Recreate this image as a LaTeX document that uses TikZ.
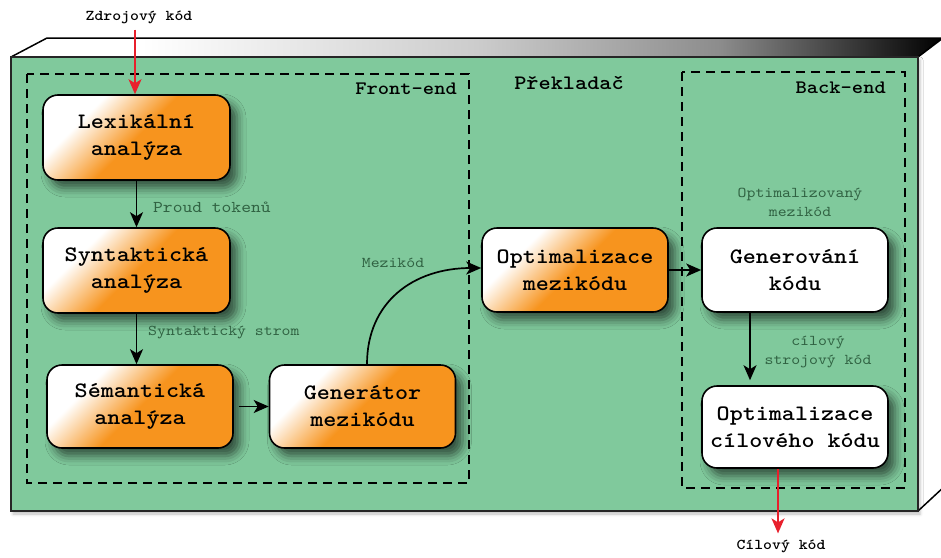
\documentclass[tikz,border=0pt]{standalone}
\usepackage{fontspec}
\setmonofont{lmmono10-regular.otf}[BoldFont=lmmonolt10-bold.otf, FakeStretch=1.13]
\usetikzlibrary{arrows.meta,shadows.blur,calc}

\definecolor{panelgreen}{RGB}{128,201,156}
\definecolor{boxorange}{RGB}{247,148,30}
\definecolor{notegreen}{RGB}{48,98,66}
\definecolor{flowred}{RGB}{232,32,44}

% white-to-orange fill of the pipeline stages (diagonal)
\pgfdeclarehorizontalshading{stagefade}{100bp}{color(0bp)=(white);color(31bp)=(white);color(50bp)=(boxorange);color(100bp)=(boxorange)}
% light-to-dark lid of the block
\pgfdeclarehorizontalshading{lidfade}{100bp}{color(0bp)=(white);color(32bp)=(white);color(50bp)=(white!80!black);color(63bp)=(white!55!black);color(75bp)=(black);color(100bp)=(black)}

\tikzset{
  stage/.style={draw=black, line width=1.6pt, rounded corners=15pt,
    minimum width=187pt, minimum height=85pt, align=center,
    font=\ttfamily\bfseries\fontsize{22}{27}\selectfont,
    blur shadow={shadow xshift=7pt, shadow yshift=-8pt, shadow blur radius=9pt, shadow opacity=60}},
  warm/.style={stage, shading=stagefade, shading angle=-45},
  plain/.style={stage, fill=white},
  note/.style={font=\ttfamily\fontsize{15}{19}\selectfont, text=notegreen, align=center, inner sep=0pt},
  outer/.style={font=\ttfamily\bfseries\fontsize{15}{19}\selectfont, text=black, inner sep=0pt},
  title/.style={font=\ttfamily\bfseries\fontsize{19}{23}\selectfont, text=black, inner sep=0pt},
  flow/.style={draw=black, line width=1.7pt, -{Stealth[length=15pt,width=13pt,inset=4pt]}},
  ioflow/.style={draw=flowred, line width=1.7pt, -{Stealth[length=15pt,width=13pt,inset=4pt]}},
  region/.style={draw=black, line width=1.5pt, dash pattern=on 9pt off 6pt}
}

\begin{document}
\begin{tikzpicture}[x=1pt, y=-1pt]
\useasboundingbox (0,0) rectangle (941,557);

% the compiler block: lid, side and front face
\shade[shading=lidfade, draw=black, line width=1.5pt, line join=round]
  (11,57) -- (47,38) -- (943,38) -- (918,57) -- cycle;
\filldraw[fill=white, draw=black, line width=1.5pt, line join=round]
  (918,57) -- (943,38) -- (946,38) -- (946,485) -- (918,511) -- cycle;
\filldraw[fill=panelgreen, draw=black!85, line width=1.8pt,
  blur shadow={shadow xshift=2pt, shadow yshift=-3pt, shadow blur radius=3pt, shadow opacity=25}]
  (11,57) rectangle (918,511);

% front-end and back-end regions
\draw[region] (27,74) rectangle (469,483);
\draw[region] (682,72) rectangle (905,488);

\node[title, anchor=east] (fe) at (457,89) {Front-end};
\node[title, anchor=east] (be) at (886,88) {Back-end};
\node[title, font=\ttfamily\bfseries\fontsize{20.5}{24}\selectfont] (pk) at (569,83) {Překladač};

% stages
\node[warm]  (lex)  at (136.5,137.5) {Lexikální\\analýza};
\node[warm]  (syn)  at (136.5,270.5) {Syntaktická\\analýza};
\node[warm, minimum width=186pt, minimum height=83pt]  (sem)  at (140,406.5) {Sémantická\\analýza};
\node[warm, minimum width=186pt, minimum height=83pt]  (gen)  at (362.5,406.5) {Generátor\\mezikódu};
\node[warm, minimum width=186pt, minimum height=84pt]  (optm) at (575,270) {Optimalizace\\mezikódu};
\node[plain, minimum width=186pt, minimum height=84pt] (genk) at (795,270) {Generování\\kódu};
\node[plain, minimum width=186pt, minimum height=82pt] (optc) at (795,427) {Optimalizace\\cílového kódu};

% input and output
\node[outer] (src) at (139,17) {Zdrojový kód};
\node[outer] (dst) at (781,546) {Cílový kód};

% edge labels
\node[note, anchor=west, font=\ttfamily\fontsize{16.5}{20}\selectfont] (tok) at (153,207) {Proud tokenů};
\node[note, anchor=west] (tree) at (148,333) {Syntaktický strom};
\node[note] (mid) at (393,263) {Mezikód};
\node[note] (omid) at (800,202) {Optimalizovaný\\mezikód};
\node[note] (mach) at (818,352) {cílový\\strojový kód};

% connectors
\draw[ioflow] ($(src.south -| lex.north)+(-1.5,6)$) -- ($(lex.north)+(-1.5,0)$);
\draw[flow] (lex.south) -- (syn.north);
\draw[flow] (syn.south) -- (syn.south |- sem.north);
\draw[flow] ($(sem.east)+(5,0)$) -- (gen.west);
\draw[flow] ($(gen.north)+(4.5,0)$) .. controls +(0,-62) and +(-68,0) .. ($(optm.west)+(0,-2)$);
\draw[flow] (optm.east) -- (genk.west);
\draw[flow] ($(genk.south)+(-45,0)$) -- ($(optc.north)+(-45,-5)$);
\draw[ioflow] ($(optc.south)+(-17,0)$) -- ($(dst.north)+(-3,-6)$);
\end{tikzpicture}
\end{document}
